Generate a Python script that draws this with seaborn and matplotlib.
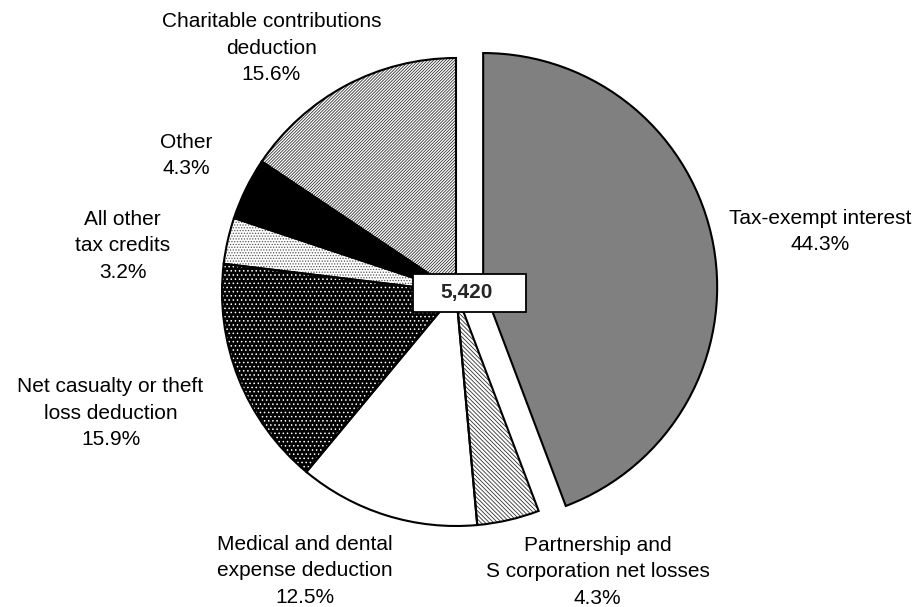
import numpy as np
import matplotlib
matplotlib.use("Agg")
import matplotlib.pyplot as plt
import matplotlib.patches as mpatches
import seaborn as sns

#  DATA (clockwise from 12 o'clock)
categories = [
    "Tax-exempt interest",
    "Partnership and\nS corporation net losses",
    "Medical and dental\nexpense deduction",
    "Net casualty or theft\nloss deduction",
    "All other\ntax credits",
    "Other",
    "Charitable contributions\ndeduction",
]
shares = [44.3, 4.3, 12.5, 15.9, 3.2, 4.3, 15.6]
total = 5420

#  STYLE
face_colors  = ["#808080", "white", "white", "black", "white", "black", "white"]
hatches      = [None, "\\" * 8, None, "....", "......", None, "/" * 11]
hatch_colors = ["#808080", "#333333", "white", "white", "#555555", "black", "#333333"]
explode      = [0.118, 0, 0, 0, 0, 0, 0]

# label placement: distance from wedge centre (in radii) and angle nudge (deg)
label_dist  = [1.458, 1.340, 1.354, 1.565, 1.438, 1.292, 1.307]
label_nudge = [-1.0, 13.9, -11.2, -2.3, 4.8, -0.7, 9.1]

sns.set_theme(style="white")
plt.rcParams["font.family"] = ["Liberation Sans", "DejaVu Sans"]
plt.rcParams["hatch.linewidth"] = 0.6

fig = plt.figure(figsize=(9.17, 6.07), dpi=100)
ax = fig.add_axes([0, 0, 1, 1])

# filled wedges (edge colour drives the hatch colour, so no outline here)
wedges, _ = ax.pie(shares, colors=face_colors, explode=explode,
                   startangle=90, counterclock=False,
                   wedgeprops=dict(linewidth=0))
for w, h, hc in zip(wedges, hatches, hatch_colors):
    w.set_edgecolor(hc)
    if h:
        w.set_hatch(h)

# black outlines on top
ax.pie(shares, explode=explode, startangle=90, counterclock=False,
       wedgeprops=dict(fill=False, edgecolor="black", linewidth=1.5))

for w, name, share, d, nudge in zip(wedges, categories, shares, label_dist, label_nudge):
    ang = np.deg2rad((w.theta1 + w.theta2) / 2 + nudge)
    cx, cy = w.center
    ax.text(cx + d * np.cos(ang), cy + d * np.sin(ang), f"{name}\n{share:.1f}%",
            ha="center", va="center", multialignment="center",
            fontsize=15, linespacing=1.5, color="black")

# total in a box at the centre
r = 234
box_w, box_h = 113 / r, 38 / r
bx, by = 0.057, -0.003
ax.add_patch(mpatches.Rectangle((bx - box_w / 2, by - box_h / 2), box_w, box_h,
                                facecolor="white", edgecolor="black",
                                linewidth=1.3, zorder=5))
ax.text(bx - 0.01, by, f"{total:,}", ha="center", va="center",
        fontsize=15, fontweight="bold", zorder=6)

ax.set_xlim(-456 / r, (917 - 456) / r)
ax.set_ylim(-(607 - 292) / r, 292 / r)
ax.set_aspect("equal")
ax.axis("off")

plt.savefig("out.png", dpi=100)
